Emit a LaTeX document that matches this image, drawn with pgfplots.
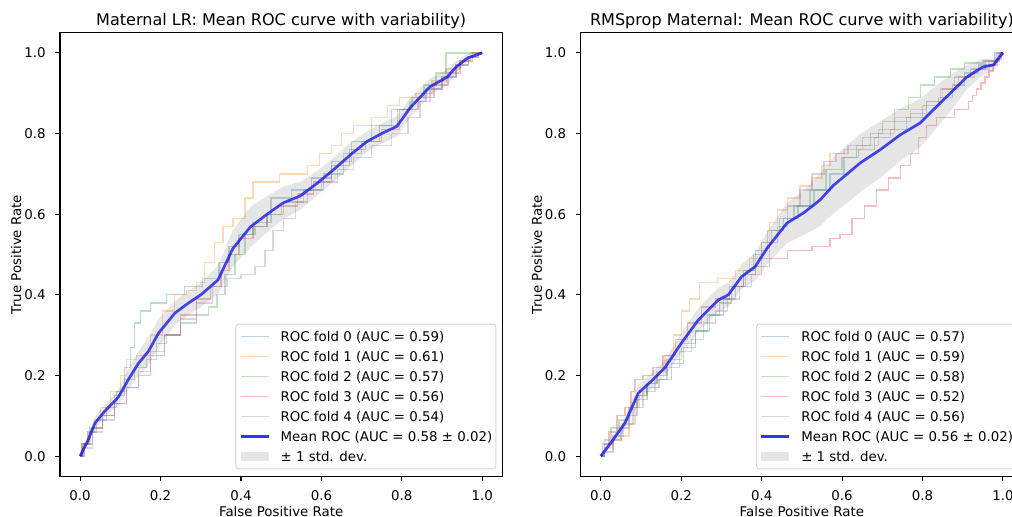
\documentclass[border=0pt]{standalone}
\usepackage{fontspec}
\setmainfont{DejaVu Sans}
\usepackage{pgfplots}
\pgfplotsset{compat=1.18}
\definecolor{c0}{HTML}{1F77B4}
\definecolor{c1}{HTML}{FF7F0E}
\definecolor{c2}{HTML}{2CA02C}
\definecolor{c3}{HTML}{D62728}
\definecolor{c4}{HTML}{9467BD}
\definecolor{meanblue}{HTML}{0000FF}
\definecolor{bandgray}{HTML}{808080}
\definecolor{legframe}{HTML}{D6D6D6}
\pgfplotsset{
  rocaxis/.style={
    scale only axis, width=318.5pt, height=319.4pt,
    xmin=-0.05, xmax=1.05, ymin=-0.05, ymax=1.05,
    xtick={0,0.2,0.4,0.6,0.8,1}, ytick={0,0.2,0.4,0.6,0.8,1},
    tick align=outside, tick pos=left, major tick length=3.4pt,
    every tick/.style={black, line width=0.77pt},
    axis line style={line width=0.77pt, black},
    /pgf/number format/fixed, /pgf/number format/fixed zerofill,
    /pgf/number format/precision=1, /pgf/number format/assume math mode=true,
    xticklabel style={anchor=north, inner sep=0pt, yshift=-6.8pt},
    yticklabel style={anchor=east, inner sep=0pt, xshift=-6.8pt},
    xlabel={False Positive Rate}, ylabel={True Positive Rate},
    xlabel style={at={(axis description cs:0.5,0)}, anchor=base, inner sep=0pt, yshift=-28.6pt},
    ylabel style={at={(axis description cs:-0.0867,0.5)}, anchor=south, inner sep=0pt},
    title style={at={(axis description cs:0.5,1)}, anchor=base, inner sep=0pt, yshift=-0.5pt, font=\fontsize{11.56}{14}\selectfont},
    legend cell align=left,
    legend image code/.code={\draw[##1, sharp corners] (0pt,0pt) -- (20pt,0pt);},
    legend style={at={(axis description cs:1,0)}, anchor=south east, xshift=-4.3pt, yshift=5pt,
      draw=legframe, line width=0.77pt, rounded corners=2pt, fill=white,
      inner xsep=2.5pt, inner ysep=4pt, row sep=4.6pt,
      nodes={inner sep=0pt, text height=8.3pt, text depth=1.5pt},
      /tikz/every odd column/.append style={column sep=7.7pt}},
  },
  fold/.style={opacity=0.3, line width=0.96pt, const plot mark mid},
  meanline/.style={meanblue, opacity=0.8, line width=1.93pt},
  band/.style={fill=bandgray, fill opacity=0.2, draw=none,
    legend image code/.code={\fill[##1, sharp corners] (0pt,-3.4pt) rectangle (20pt,3.4pt);}}
}
\begin{document}
\fontsize{9.63}{11.56}\selectfont
\begin{tikzpicture}
\begin{axis}[rocaxis, at={(0pt,0pt)}, anchor=south west,
  title={Maternal LR: Mean ROC curve with variability)}]
\addplot[c0, fold] coordinates {(0,0) (0.01,0.03) (0.03,0.06) (0.05,0.09) (0.08,0.12) (0.10,0.16) (0.12,0.22) (0.13,0.27) (0.14,0.33) (0.16,0.36) (0.19,0.38) (0.24,0.40) (0.28,0.42) (0.33,0.44) (0.36,0.48) (0.38,0.52) (0.41,0.55) (0.45,0.58) (0.50,0.64) (0.55,0.66) (0.60,0.69) (0.65,0.73) (0.70,0.78) (0.75,0.82) (0.80,0.86) (0.84,0.88) (0.88,0.91) (0.92,0.94) (0.95,0.97) (0.98,0.99) (1,1)};
\addlegendentry{ROC fold 0 (AUC = 0.59)}
\addplot[c1, fold] coordinates {(0,0) (0.01,0.03) (0.03,0.06) (0.04,0.09) (0.06,0.12) (0.09,0.16) (0.11,0.20) (0.12,0.24) (0.16,0.25) (0.19,0.30) (0.22,0.36) (0.25,0.40) (0.28,0.41) (0.30,0.43) (0.32,0.48) (0.35,0.53) (0.36,0.57) (0.40,0.59) (0.42,0.64) (0.44,0.68) (0.55,0.70) (0.58,0.72) (0.61,0.75) (0.64,0.77) (0.66,0.80) (0.70,0.82) (0.75,0.84) (0.78,0.87) (0.81,0.89) (0.86,0.90) (0.89,0.93) (0.93,0.96) (0.96,0.98) (0.98,1.0) (1,1)};
\addlegendentry{ROC fold 1 (AUC = 0.61)}
\addplot[c2, fold] coordinates {(0,0) (0.01,0.03) (0.04,0.07) (0.07,0.10) (0.10,0.15) (0.12,0.19) (0.15,0.22) (0.18,0.24) (0.20,0.28) (0.23,0.30) (0.27,0.33) (0.31,0.35) (0.33,0.37) (0.35,0.40) (0.37,0.45) (0.40,0.50) (0.42,0.55) (0.45,0.57) (0.48,0.60) (0.53,0.63) (0.58,0.66) (0.63,0.70) (0.68,0.75) (0.72,0.78) (0.77,0.82) (0.81,0.86) (0.84,0.89) (0.87,0.92) (0.90,0.95) (0.92,1.0) (1,1)};
\addlegendentry{ROC fold 2 (AUC = 0.57)}
\addplot[c3, fold] coordinates {(0,0) (0.02,0.03) (0.04,0.07) (0.07,0.10) (0.10,0.13) (0.13,0.17) (0.16,0.20) (0.19,0.25) (0.23,0.30) (0.27,0.35) (0.31,0.39) (0.34,0.42) (0.36,0.46) (0.38,0.50) (0.41,0.54) (0.45,0.57) (0.48,0.60) (0.52,0.62) (0.56,0.65) (0.60,0.68) (0.65,0.72) (0.69,0.76) (0.73,0.78) (0.77,0.81) (0.82,0.86) (0.86,0.89) (0.90,0.92) (0.93,0.95) (0.96,0.98) (0.99,1.0) (1,1)};
\addlegendentry{ROC fold 3 (AUC = 0.56)}
\addplot[c4, fold] coordinates {(0,0) (0.02,0.02) (0.04,0.06) (0.07,0.09) (0.10,0.13) (0.13,0.17) (0.16,0.21) (0.19,0.26) (0.23,0.30) (0.27,0.34) (0.31,0.38) (0.35,0.42) (0.38,0.44) (0.42,0.45) (0.45,0.47) (0.47,0.51) (0.49,0.56) (0.52,0.59) (0.55,0.63) (0.58,0.66) (0.62,0.68) (0.66,0.71) (0.70,0.74) (0.75,0.77) (0.80,0.80) (0.83,0.84) (0.86,0.88) (0.88,0.91) (0.92,0.94) (0.95,0.97) (0.98,0.99) (1,1)};
\addlegendentry{ROC fold 4 (AUC = 0.54)}
\addplot[meanline] coordinates {(0,0) (0.02,0.04) (0.037,0.082) (0.06,0.11) (0.095,0.146) (0.12,0.19) (0.145,0.23) (0.17,0.26) (0.195,0.305) (0.236,0.355) (0.27,0.38) (0.30,0.40) (0.343,0.437) (0.38,0.515) (0.423,0.568) (0.465,0.60) (0.505,0.628) (0.547,0.645) (0.59,0.677) (0.63,0.71) (0.672,0.747) (0.713,0.78) (0.75,0.80) (0.788,0.818) (0.82,0.863) (0.87,0.916) (0.913,0.94) (0.933,0.963) (0.963,0.987) (1,1)};
\addlegendentry{Mean ROC (AUC = 0.58 ± 0.02)}
\addplot[band] coordinates {(0,0) (0.02,0.05) (0.037,0.097) (0.06,0.125) (0.095,0.166) (0.12,0.215) (0.145,0.26) (0.17,0.295) (0.195,0.34) (0.236,0.385) (0.27,0.41) (0.30,0.43) (0.343,0.472) (0.38,0.56) (0.423,0.618) (0.465,0.645) (0.505,0.668) (0.547,0.68) (0.59,0.707) (0.63,0.74) (0.672,0.777) (0.713,0.805) (0.75,0.825) (0.788,0.843) (0.82,0.888) (0.87,0.936) (0.913,0.96) (0.933,0.978) (0.963,0.997) (1,1)
 (0.963,0.977) (0.933,0.948) (0.913,0.92) (0.87,0.896) (0.82,0.838) (0.788,0.793) (0.75,0.775) (0.713,0.755) (0.672,0.717) (0.63,0.68) (0.59,0.647) (0.547,0.61) (0.505,0.588) (0.465,0.555) (0.423,0.518) (0.38,0.47) (0.343,0.402) (0.30,0.37) (0.27,0.35) (0.236,0.325) (0.195,0.27) (0.17,0.225) (0.145,0.20) (0.12,0.165) (0.095,0.126) (0.06,0.095) (0.037,0.067) (0.02,0.03) (0,0)} -- cycle;
\addlegendentry{± 1 std. dev.}
\end{axis}
\begin{axis}[rocaxis, at={(374.9pt,0pt)}, anchor=south west,
  title={RMSprop Maternal: Mean ROC curve with variability)}]
\addplot[c0, fold] coordinates {(0,0) (0.02,0.01) (0.04,0.04) (0.06,0.07) (0.08,0.10) (0.10,0.14) (0.13,0.17) (0.16,0.19) (0.19,0.23) (0.22,0.27) (0.25,0.31) (0.29,0.35) (0.32,0.39) (0.35,0.42) (0.37,0.46) (0.39,0.50) (0.41,0.53) (0.44,0.56) (0.47,0.59) (0.51,0.62) (0.55,0.66) (0.59,0.70) (0.62,0.74) (0.66,0.76) (0.70,0.79) (0.74,0.81) (0.78,0.84) (0.82,0.87) (0.86,0.89) (0.89,0.92) (0.92,0.95) (0.96,0.97) (1,1)};
\addlegendentry{ROC fold 0 (AUC = 0.57)}
\addplot[c1, fold] coordinates {(0,0) (0.02,0.02) (0.04,0.04) (0.06,0.05) (0.08,0.08) (0.09,0.12) (0.10,0.15) (0.13,0.18) (0.15,0.21) (0.17,0.25) (0.19,0.30) (0.21,0.36) (0.23,0.39) (0.26,0.43) (0.32,0.44) (0.35,0.46) (0.39,0.49) (0.41,0.53) (0.43,0.58) (0.45,0.61) (0.48,0.64) (0.51,0.67) (0.54,0.69) (0.56,0.72) (0.58,0.75) (0.63,0.76) (0.67,0.77) (0.71,0.80) (0.75,0.84) (0.79,0.86) (0.83,0.88) (0.87,0.91) (0.91,0.94) (0.95,0.96) (0.98,0.98) (1,1)};
\addlegendentry{ROC fold 1 (AUC = 0.59)}
\addplot[c2, fold] coordinates {(0,0) (0.02,0.04) (0.03,0.07) (0.06,0.09) (0.08,0.12) (0.10,0.15) (0.13,0.18) (0.15,0.20) (0.18,0.24) (0.22,0.28) (0.25,0.31) (0.28,0.35) (0.31,0.38) (0.34,0.42) (0.37,0.46) (0.40,0.51) (0.43,0.56) (0.46,0.59) (0.50,0.62) (0.54,0.66) (0.58,0.71) (0.62,0.74) (0.65,0.77) (0.69,0.80) (0.71,0.83) (0.75,0.86) (0.78,0.89) (0.81,0.92) (0.85,0.94) (0.89,0.96) (0.92,0.975) (0.98,0.98) (1,1)};
\addlegendentry{ROC fold 2 (AUC = 0.58)}
\addplot[c3, fold] coordinates {(0,0) (0.01,0.03) (0.03,0.06) (0.05,0.10) (0.07,0.12) (0.08,0.16) (0.09,0.19) (0.12,0.20) (0.14,0.22) (0.17,0.25) (0.20,0.29) (0.23,0.33) (0.27,0.37) (0.30,0.39) (0.34,0.42) (0.37,0.45) (0.40,0.47) (0.44,0.49) (0.49,0.51) (0.56,0.52) (0.58,0.54) (0.61,0.55) (0.64,0.59) (0.67,0.62) (0.70,0.66) (0.73,0.69) (0.76,0.72) (0.78,0.75) (0.80,0.79) (0.82,0.82) (0.85,0.84) (0.91,0.86) (0.92,0.88) (0.93,0.895) (0.94,0.91) (0.95,0.925) (0.96,0.94) (0.97,0.955) (0.98,0.97) (0.99,0.985) (1,1)};
\addlegendentry{ROC fold 3 (AUC = 0.52)}
\addplot[c4, fold] coordinates {(0,0) (0.02,0.03) (0.04,0.05) (0.07,0.08) (0.09,0.12) (0.12,0.16) (0.15,0.19) (0.18,0.22) (0.21,0.26) (0.24,0.29) (0.27,0.33) (0.30,0.36) (0.33,0.39) (0.36,0.42) (0.39,0.45) (0.41,0.49) (0.43,0.53) (0.45,0.57) (0.48,0.62) (0.51,0.66) (0.54,0.70) (0.57,0.73) (0.60,0.75) (0.63,0.77) (0.67,0.79) (0.71,0.81) (0.75,0.83) (0.79,0.85) (0.83,0.88) (0.86,0.91) (0.90,0.94) (0.94,0.96) (0.97,0.98) (1,1)};
\addlegendentry{ROC fold 4 (AUC = 0.56)}
\addplot[meanline] coordinates {(0,0) (0.03,0.04) (0.06,0.082) (0.093,0.156) (0.13,0.19) (0.16,0.22) (0.20,0.28) (0.242,0.337) (0.292,0.387) (0.317,0.40) (0.35,0.445) (0.384,0.47) (0.413,0.515) (0.463,0.578) (0.504,0.603) (0.545,0.635) (0.579,0.672) (0.613,0.70) (0.645,0.727) (0.695,0.76) (0.745,0.797) (0.794,0.826) (0.827,0.859) (0.869,0.90) (0.91,0.94) (0.95,0.965) (0.976,0.97) (1,1)};
\addlegendentry{Mean ROC (AUC = 0.56 ± 0.02)}
\addplot[band] coordinates {(0,0) (0.03,0.05) (0.06,0.097) (0.093,0.176) (0.13,0.21) (0.16,0.24) (0.20,0.305) (0.242,0.367) (0.292,0.417) (0.317,0.43) (0.35,0.475) (0.384,0.505) (0.413,0.555) (0.463,0.628) (0.504,0.658) (0.545,0.70) (0.579,0.742) (0.613,0.772) (0.645,0.799) (0.695,0.83) (0.745,0.862) (0.794,0.886) (0.827,0.914) (0.869,0.945) (0.91,0.97) (0.95,0.985) (0.976,0.985) (1,1)
 (0.976,0.955) (0.95,0.945) (0.91,0.91) (0.869,0.855) (0.827,0.804) (0.794,0.766) (0.745,0.732) (0.695,0.69) (0.645,0.655) (0.613,0.628) (0.579,0.602) (0.545,0.57) (0.504,0.548) (0.463,0.528) (0.413,0.475) (0.384,0.435) (0.35,0.415) (0.317,0.37) (0.292,0.357) (0.242,0.307) (0.20,0.255) (0.16,0.20) (0.13,0.17) (0.093,0.136) (0.06,0.067) (0.03,0.03) (0,0)} -- cycle;
\addlegendentry{± 1 std. dev.}
\end{axis}
\pgfresetboundingbox
\path[use as bounding box] (-43.2pt,-29.3pt) rectangle (685.44pt,342.94pt);
\end{tikzpicture}
\end{document}
